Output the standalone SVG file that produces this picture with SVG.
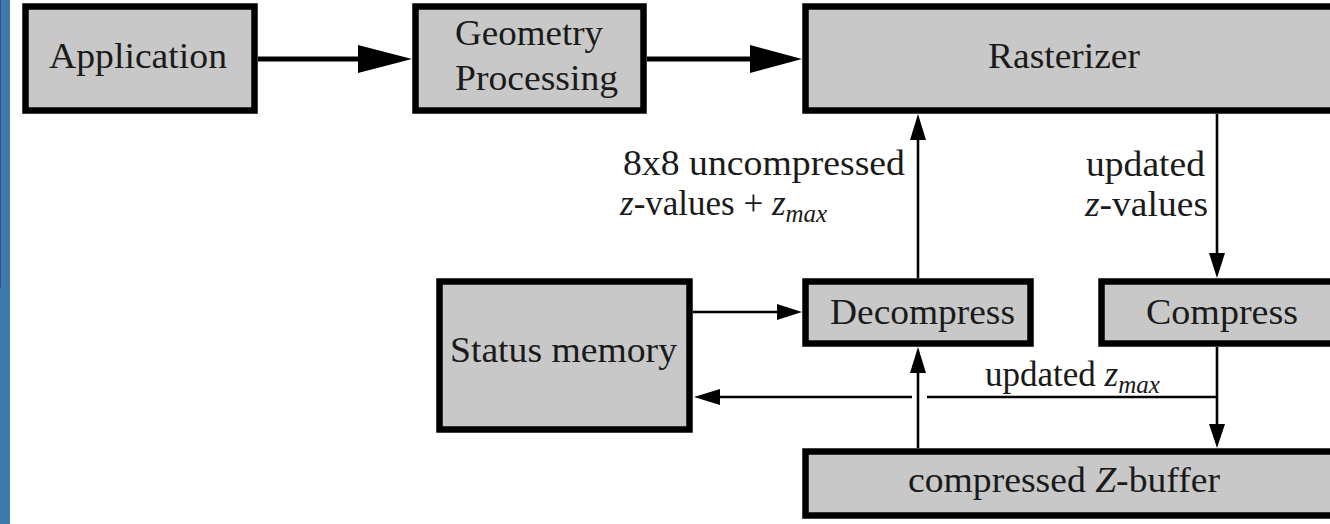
<svg xmlns="http://www.w3.org/2000/svg" width="1330" height="524" viewBox="0 0 1330 524">
<style>
.box{fill:#c8c8c8;stroke:#000;stroke-width:6.5}
.t{font-family:'Liberation Serif','DejaVu Serif',serif;font-size:35px;fill:#1a1a1a}
.i{font-style:italic}
.sub{font-style:italic;font-size:25px}
.thick{stroke:#000;stroke-width:5;fill:none}
.thin{stroke:#000;stroke-width:2.6;fill:none}
.head{fill:#000}
</style>
<rect x="0" y="0" width="1330" height="524" fill="#fff"/>
<rect x="0" y="0" width="10" height="524" fill="#3f7aad"/>
<rect x="0" y="0" width="1" height="288" fill="#2f4ea0"/>

<g id="application">
<rect class="box" x="25.5" y="6.5" width="229" height="104"/>
<text class="t" x="49" y="68" textLength="178" lengthAdjust="spacingAndGlyphs">Application</text>
</g>
<g id="geometry">
<rect class="box" x="415.5" y="6.5" width="228" height="104"/>
<text class="t" x="455" y="45" textLength="148" lengthAdjust="spacingAndGlyphs">Geometry</text>
<text class="t" x="455" y="90" textLength="163" lengthAdjust="spacingAndGlyphs">Processing</text>
</g>
<g id="rasterizer">
<rect class="box" x="805.5" y="6.5" width="532" height="104"/>
<text class="t" x="988" y="68" textLength="152" lengthAdjust="spacingAndGlyphs">Rasterizer</text>
</g>
<g id="status-memory">
<rect class="box" x="439.5" y="281.5" width="250" height="148"/>
<text class="t" x="450" y="362" textLength="227" lengthAdjust="spacingAndGlyphs">Status memory</text>
</g>
<g id="decompress">
<rect class="box" x="805.5" y="281.5" width="225" height="62"/>
<text class="t" x="830" y="324" textLength="185" lengthAdjust="spacingAndGlyphs">Decompress</text>
</g>
<g id="compress">
<rect class="box" x="1101.5" y="281.5" width="236" height="62"/>
<text class="t" x="1146" y="324" textLength="152" lengthAdjust="spacingAndGlyphs">Compress</text>
</g>
<g id="zbuffer">
<rect class="box" x="805.5" y="451.5" width="532" height="64"/>
<text class="t" x="908" y="492" textLength="312" lengthAdjust="spacingAndGlyphs">compressed <tspan class="i">Z</tspan>-buffer</text>
</g>

<g id="connectors">
<line class="thick" x1="258" y1="59" x2="362" y2="59"/>
<polygon class="head" points="412,59 358,45 358,73"/>
<line class="thick" x1="647" y1="59" x2="754" y2="59"/>
<polygon class="head" points="802,59 750,45 750,73"/>

<line class="thin" x1="918" y1="278" x2="918" y2="136"/>
<polygon class="head" points="918,114 910,140 926,140"/>

<line class="thin" x1="1217" y1="114" x2="1217" y2="256"/>
<polygon class="head" points="1217,278 1209,253 1225,253"/>

<line class="thin" x1="693" y1="312" x2="780" y2="312"/>
<polygon class="head" points="802,312 777,304 777,320"/>

<line class="thin" x1="918" y1="448" x2="918" y2="370"/>
<polygon class="head" points="918,347 910,373 926,373"/>

<line class="thin" x1="1217" y1="347" x2="1217" y2="427"/>
<polygon class="head" points="1217,448 1209,424 1225,424"/>

<line class="thin" x1="1218" y1="397" x2="927" y2="397"/>
<line class="thin" x1="912" y1="397" x2="718" y2="397"/>
<polygon class="head" points="694,397 720,389 720,405"/>

<text class="t" x="623" y="175" textLength="282" lengthAdjust="spacingAndGlyphs">8x8 uncompressed</text>
<text class="t" x="620" y="215"><tspan class="i">z</tspan>-values + <tspan class="i">z</tspan><tspan class="sub" dy="7">max</tspan></text>
<text class="t" x="1086" y="176" textLength="119" lengthAdjust="spacingAndGlyphs">updated</text>
<text class="t" x="1085" y="216" textLength="123" lengthAdjust="spacingAndGlyphs"><tspan class="i">z</tspan>-values</text>
<text class="t" x="985" y="386"><tspan>updated </tspan><tspan class="i">z</tspan><tspan class="sub" dy="7">max</tspan></text>
</g>
</svg>
